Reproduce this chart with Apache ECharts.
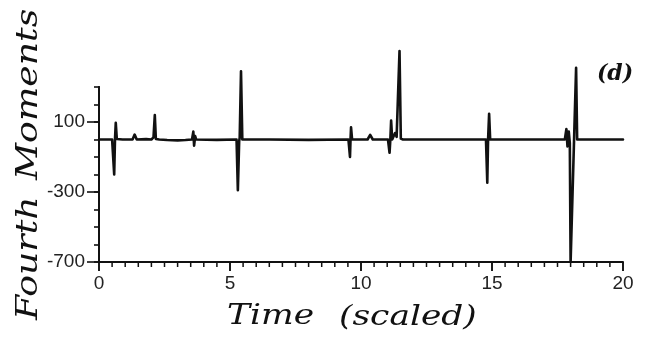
<!DOCTYPE html>
<html>
<head>
<meta charset="utf-8">
<script src="https://cdn.jsdelivr.net/npm/echarts@6/dist/echarts.min.js"></script>
<style>
  html, body { margin: 0; padding: 0; background: #ffffff; }
  #chart { width: 647px; height: 345px; }
</style>
</head>
<body>
<div id="chart"></div>
<script>
// Fourth moments against scaled time: a flat trace with bursts.
const timeScaled = [
  0, 0.5, 0.54, 0.58, 0.61, 0.64, 0.68, 0.9,
  1.28, 1.36, 1.44, 1.8,
  2.0, 2.08, 2.13, 2.17, 2.3, 2.6, 3.0, 3.3,
  3.55, 3.6, 3.63, 3.67, 3.71, 4.5,
  5.25, 5.30, 5.35, 5.37, 5.42, 5.47, 6.5, 8.0,
  9.52, 9.58, 9.60, 9.62, 9.66,
  10.25, 10.35, 10.45, 10.9,
  11.03, 11.09, 11.12, 11.15, 11.19, 11.23, 11.3, 11.36, 11.4, 11.47, 11.52, 11.6, 13.0,
  14.77, 14.82, 14.85, 14.89, 14.93, 16.5,
  17.78, 17.84, 17.88, 17.93, 17.97, 18.0, 18.21, 18.25, 18.4, 20
];
const fourthMoment = [
  0, 0, -5, -200, 0, 95, 3, 0,
  0, 28, 0, 2,
  0, 12, 140, 3, 0, -3, -5, -3,
  0, 45, -35, 20, 0, -2,
  0, -290, -10, 10, 390, 0, 0, -2,
  0, -100, 0, 70, 0,
  0, 27, 0, 0,
  0, -76, 0, 108, 0, 10, 37, 15, 20, 505, 5, 0, 0,
  0, -247, 0, 147, 0, 0,
  0, 60, -40, 45, -20, -700, 410, 0, 0, 0
];
const xLabelValues = [0, 5, 10, 15, 20];
const yLabelValues = [-700, -300, 100];
// tick marks along the time axis, every half unit
const xTickValues = [
  0, 0.5, 1, 1.5, 2, 2.5, 3, 3.5, 4, 4.5,
  5, 5.5, 6, 6.5, 7, 7.5, 8, 8.5, 9, 9.5,
  10, 10.5, 11, 11.5, 12, 12.5, 13, 13.5, 14, 14.5,
  15, 15.5, 16, 16.5, 17, 17.5, 18, 18.5, 19, 19.5, 20
];

const points = timeScaled.map((t, i) => [t, fourthMoment[i]]);

const tickFont = 'Liberation Sans, Arial, sans-serif';
const titleFont = 'italic 28px "DejaVu Serif", serif';
const ink = '#111';
const axisLineStyle = { color: ink, width: 2 };
const yMin = -700, yMax = 300;

const chart = echarts.init(document.getElementById('chart'), null, { renderer: 'canvas' });

chart.setOption({
  animation: false,
  backgroundColor: '#ffffff',
  grid: { left: 99, right: 24, top: 87, bottom: 83 },
  xAxis: [{
    type: 'value',
    position: 'bottom',
    min: 0, max: 20, interval: 5,
    axisLine: { show: true, onZero: false, lineStyle: axisLineStyle },
    axisTick: { show: true, inside: false, length: 9, lineStyle: { color: ink, width: 1.6 } },
    axisLabel: {
      show: true, margin: 12, color: '#222',
      fontFamily: tickFont, fontSize: 19,
      formatter: v => (xLabelValues.includes(v) ? String(v) : '')
    },
    splitLine: { show: false }
  }],
  yAxis: [{
    type: 'value',
    position: 'left',
    min: yMin, max: yMax, interval: 100,
    axisLine: { show: true, onZero: false, lineStyle: axisLineStyle },
    axisTick: { show: true, inside: false, length: 5, lineStyle: { color: ink, width: 1.6 } },
    axisLabel: {
      show: true, margin: 14, color: '#222',
      fontFamily: tickFont, fontSize: 19,
      formatter: v => (yLabelValues.includes(v) ? String(v) : '')
    },
    splitLine: { show: false }
  }, {
    // longer ticks at the labelled values
    type: 'value',
    position: 'left',
    min: yMin, max: yMax,
    axisLine: { show: true, onZero: false, lineStyle: axisLineStyle },
    axisTick: { show: true, inside: false, length: 12, customValues: yLabelValues,
      lineStyle: { color: ink, width: 1.6 } },
    axisLabel: { show: false },
    splitLine: { show: false }
  }],
  series: [{
    type: 'line',
    xAxisIndex: 0,
    yAxisIndex: 0,
    data: points,
    showSymbol: false,
    smooth: false,
    clip: false,
    lineStyle: { color: ink, width: 2.6, join: 'round', cap: 'round' }
  }, {
    // hanging tick marks under the time axis
    type: 'custom',
    coordinateSystem: 'cartesian2d',
    xAxisIndex: 0,
    yAxisIndex: 0,
    silent: true,
    clip: false,
    z: 5,
    data: xTickValues.map(t => [t, yMin]),
    encode: { x: 0, y: 1 },
    renderItem: (params, api) => {
      const t = api.value(0);
      const p = api.coord([t, yMin]);
      const len = xLabelValues.includes(t) ? 9 : 5;
      return {
        type: 'line',
        shape: { x1: p[0], y1: p[1], x2: p[0], y2: p[1] + len },
        style: { stroke: ink, lineWidth: 1.5 }
      };
    }
  }],
  graphic: [
    { type: 'text', x: 227, y: 317, scaleX: 1.23, scaleY: 1,
      style: { text: 'Time', font: titleFont, fill: ink, align: 'left', verticalAlign: 'middle' } },
    { type: 'text', x: 339, y: 318, scaleX: 1.23, scaleY: 1,
      style: { text: '(scaled)', font: titleFont, fill: ink, align: 'left', verticalAlign: 'middle' } },
    { type: 'text', x: 29, y: 320, rotation: Math.PI / 2, scaleX: 1.25, scaleY: 1,
      style: { text: 'Fourth', font: 'italic 29px "DejaVu Serif", serif', fill: ink, align: 'left', verticalAlign: 'middle' } },
    { type: 'text', x: 29, y: 180, rotation: Math.PI / 2, scaleX: 1.25, scaleY: 1,
      style: { text: 'Moments', font: 'italic 29px "DejaVu Serif", serif', fill: ink, align: 'left', verticalAlign: 'middle' } },
    { type: 'text', x: 615, y: 74,
      style: { text: '(d)', font: 'italic bold 22px "DejaVu Serif", serif', fill: ink, align: 'center', verticalAlign: 'middle' } }
  ]
});
</script>
</body>
</html>
